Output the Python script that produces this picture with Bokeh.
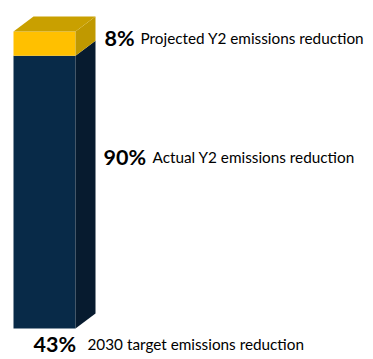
from bokeh.plotting import figure
from bokeh.models import Range1d
from bokeh.core.properties import value
from bokeh.embed import file_html
from bokeh.resources import INLINE

# ---- data ----
segment_names = ["Actual Y2 emissions reduction", "Projected Y2 emissions reduction"]
segment_values = [90, 8]
pct_labels = ["8%", "90%", "43%"]
desc_labels = ["Projected Y2 emissions reduction",
               "Actual Y2 emissions reduction",
               "2030 target emissions reduction"]

# ---- styles ----
front_colors = ["#082A48", "#FFC000"]
side_colors = ["#071B2F", "#C09900"]
top_color = "#C9A000"

W, H = 373, 359
total = sum(segment_values)
bar_px = 297.0
ppu = bar_px / total          # pixels per value unit
bottom_px = 31.0              # px from figure bottom to bar bottom
y0 = -bottom_px / ppu
y1 = y0 + H / ppu

p = figure(width=W, height=H, output_backend="svg", toolbar_location=None,
           x_range=Range1d(0, W), y_range=Range1d(y0, y1),
           min_border=0, outline_line_color=None)
p.axis.visible = False
p.grid.visible = False
p.background_fill_color = "white"
p.border_fill_color = "white"

xl, xr = 13, 75               # front face left/right
dx = 20                       # depth in x
dyu = 15 / ppu                # depth in y (value units)

base = 0
for i, v in enumerate(segment_values):
    b, t = base, base + v
    p.quad(left=[xl], right=[xr], bottom=[b], top=[t],
           fill_color=front_colors[i], line_color=None)
    p.patch([xr, xr + dx, xr + dx, xr], [b, b + dyu, t + dyu, t],
            fill_color=side_colors[i], line_color=None)
    base = t
p.patch([xl, xl + dx, xr + dx, xr], [base, base + dyu, base + dyu, base],
        fill_color=top_color, line_color=None)

def ypx(img_y):
    # image y (from top) -> data value
    return (H - img_y - bottom_px) / ppu

pct_x = [104, 103, 33]
desc_x = [140, 152, 87]
base_y = [ypx(37), ypx(156), ypx(343)]

p.text(x=pct_x, y=base_y, text=pct_labels, text_font=value("Lato"),
       text_font_style="bold", text_font_size="21.5px", text_color="#000000",
       text_baseline="alphabetic", text_align="left")
p.text(x=desc_x, y=base_y, text=desc_labels, text_font=value("Lato"),
       text_font_size="15.3px", text_color="#000000",
       text_baseline="alphabetic", text_align="left")

open("out.html", "w").write(file_html(p, INLINE))
